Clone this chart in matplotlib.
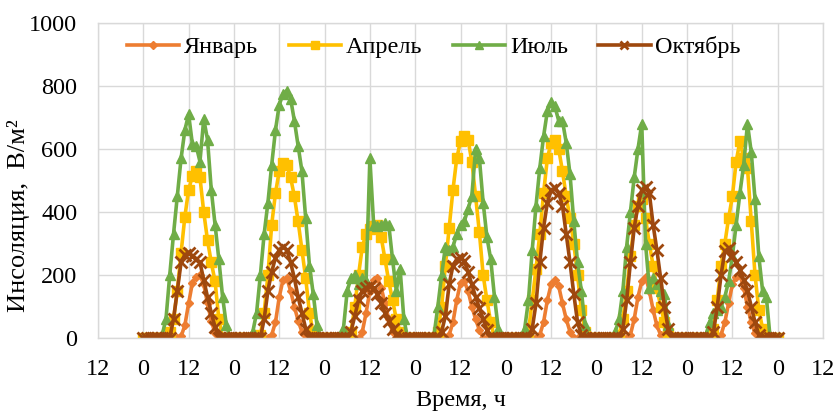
import numpy as np
import matplotlib
matplotlib.use("Agg")
import matplotlib.pyplot as plt

plt.rcParams['font.family'] = ['Liberation Serif', 'DejaVu Serif']

# hourly insolation, W/m^2, 7 days (169 points: hour 0 .. 168)
jan = [0,0,0,0,0,0,0,0,0,0,5,40,110,175,195,200,170,110,55,15,0,0,0,0,
       0,0,0,0,0,0,0,0,0,0,10,50,130,185,190,150,100,55,20,0,0,0,0,0,
       0,0,0,0,0,0,0,0,0,0,20,80,150,185,190,160,110,60,20,0,0,0,0,0,
       0,0,0,0,0,0,0,0,0,10,50,120,175,180,150,100,60,25,0,0,0,0,0,0,
       0,0,0,0,0,0,0,0,0,10,50,120,170,185,165,110,60,20,0,0,0,0,0,0,
       0,0,0,0,0,0,0,0,0,10,60,130,180,195,150,90,40,10,0,0,0,0,0,0,
       0,0,0,0,0,0,0,0,0,10,50,110,170,195,200,160,100,50,15,0,0,0,0,0,
       0]
apr = [0,0,0,0,0,0,0,20,60,150,270,385,470,515,530,510,400,310,240,180,60,0,0,0,
       0,0,0,0,0,0,0,10,80,200,360,460,530,555,550,510,450,370,280,190,80,15,0,0,
       0,0,0,0,0,0,0,20,100,200,290,330,345,355,360,320,250,180,120,60,20,0,0,0,
       0,0,0,0,0,0,20,100,230,350,470,570,625,640,630,560,450,335,200,120,50,0,0,0,
       0,0,0,0,0,0,20,120,220,330,460,570,620,630,600,530,450,380,300,200,90,20,0,0,
       0,0,0,0,0,0,10,60,150,260,360,420,440,380,300,230,160,100,50,15,0,0,0,0,
       0,0,0,0,0,0,0,30,120,230,300,380,450,560,625,570,540,370,200,90,30,0,0,0,
       0]
jul = [0,0,0,0,0,10,60,200,330,450,570,660,710,615,610,560,695,630,470,360,250,130,40,0,
       0,0,0,0,0,20,80,200,330,430,550,660,740,775,785,760,690,610,530,380,230,140,40,0,
       0,0,0,0,0,30,150,190,200,170,190,180,570,360,355,360,365,360,250,150,220,60,0,0,
       0,0,0,0,0,10,100,200,290,280,290,330,360,370,410,450,600,570,430,320,250,130,30,0,
       0,0,0,0,0,30,120,280,420,540,640,720,750,735,690,690,620,520,370,240,150,40,0,0,
       0,0,0,0,0,20,60,150,290,400,510,600,680,300,160,190,170,150,140,40,0,0,0,0,
       0,0,0,0,0,10,50,80,90,100,130,180,260,360,460,550,680,590,440,260,150,130,0,0,
       0]
octb = [0,0,0,0,0,0,0,0,60,150,240,265,270,260,250,240,185,130,80,35,0,0,0,0,
        0,0,0,0,0,0,0,0,60,150,210,255,280,290,280,240,190,130,80,30,0,0,0,0,
        0,0,0,0,0,0,0,20,70,120,150,160,165,160,140,110,80,55,30,10,0,0,0,0,
        0,0,0,0,0,0,0,20,70,170,230,250,255,245,210,170,130,95,60,25,0,0,0,0,
        0,0,0,0,0,0,0,30,110,240,350,430,470,475,460,420,330,240,140,50,10,0,0,0,
        0,0,0,0,0,0,0,30,120,240,350,420,470,480,460,360,280,190,100,30,0,0,0,0,
        0,0,0,0,0,0,0,20,100,200,275,285,260,240,215,185,150,100,50,10,0,0,0,0,
        0]
hours = np.arange(len(jan))
labels = ['Январь', 'Апрель', 'Июль', 'Октябрь']
xticks = np.arange(-12, 181, 12)
xtick_labels = [str(t % 24) for t in xticks]

FS = 17.5

fig = plt.figure(figsize=(8.36, 4.12), dpi=100)
ax = fig.add_axes([98/836, 1-338/412, 725/836, 315/412])

ax.plot(hours, jan, color='#ED7D31', lw=2.6, marker='D', ms=4.5, label=labels[0])
ax.plot(hours, apr, color='#FFC000', lw=2.6, marker='s', ms=6.5, label=labels[1])
ax.plot(hours, jul, color='#70AD47', lw=2.6, marker='^', ms=7, label=labels[2])
ax.plot(hours, octb, color='#9E480E', lw=2.6, marker='x', ms=8, mew=2, label=labels[3])

ax.set_xlim(-12, 180)
ax.set_ylim(0, 1000)
ax.set_xticks(xticks)
ax.set_xticklabels(xtick_labels)
ax.set_yticks(np.arange(0, 1001, 200))
ax.grid(True, color='#d9d9d9', lw=1)
ax.set_axisbelow(True)
for s in ax.spines.values():
    s.set_color('#d9d9d9')
    s.set_linewidth(1)
ax.tick_params(axis='both', length=0, labelsize=FS, colors='#000000')
ax.tick_params(axis='x', pad=15)
ax.tick_params(axis='y', pad=15)

ax.set_ylabel('Инсоляция,  В/м²', fontsize=19)
ax.yaxis.set_label_coords(-0.094, 0.39)
ax.set_xlabel('Время, ч', fontsize=FS)
ax.xaxis.set_label_coords(0.5, -0.165)

ax.legend(loc='center', bbox_to_anchor=(434/836, 1-47/412), bbox_transform=fig.transFigure,
          ncol=4, frameon=False, fontsize=FS, handlelength=2.15, handletextpad=0.2,
          columnspacing=1.25, borderpad=0, markerscale=0.8)

fig.savefig('out.png', dpi=100)
